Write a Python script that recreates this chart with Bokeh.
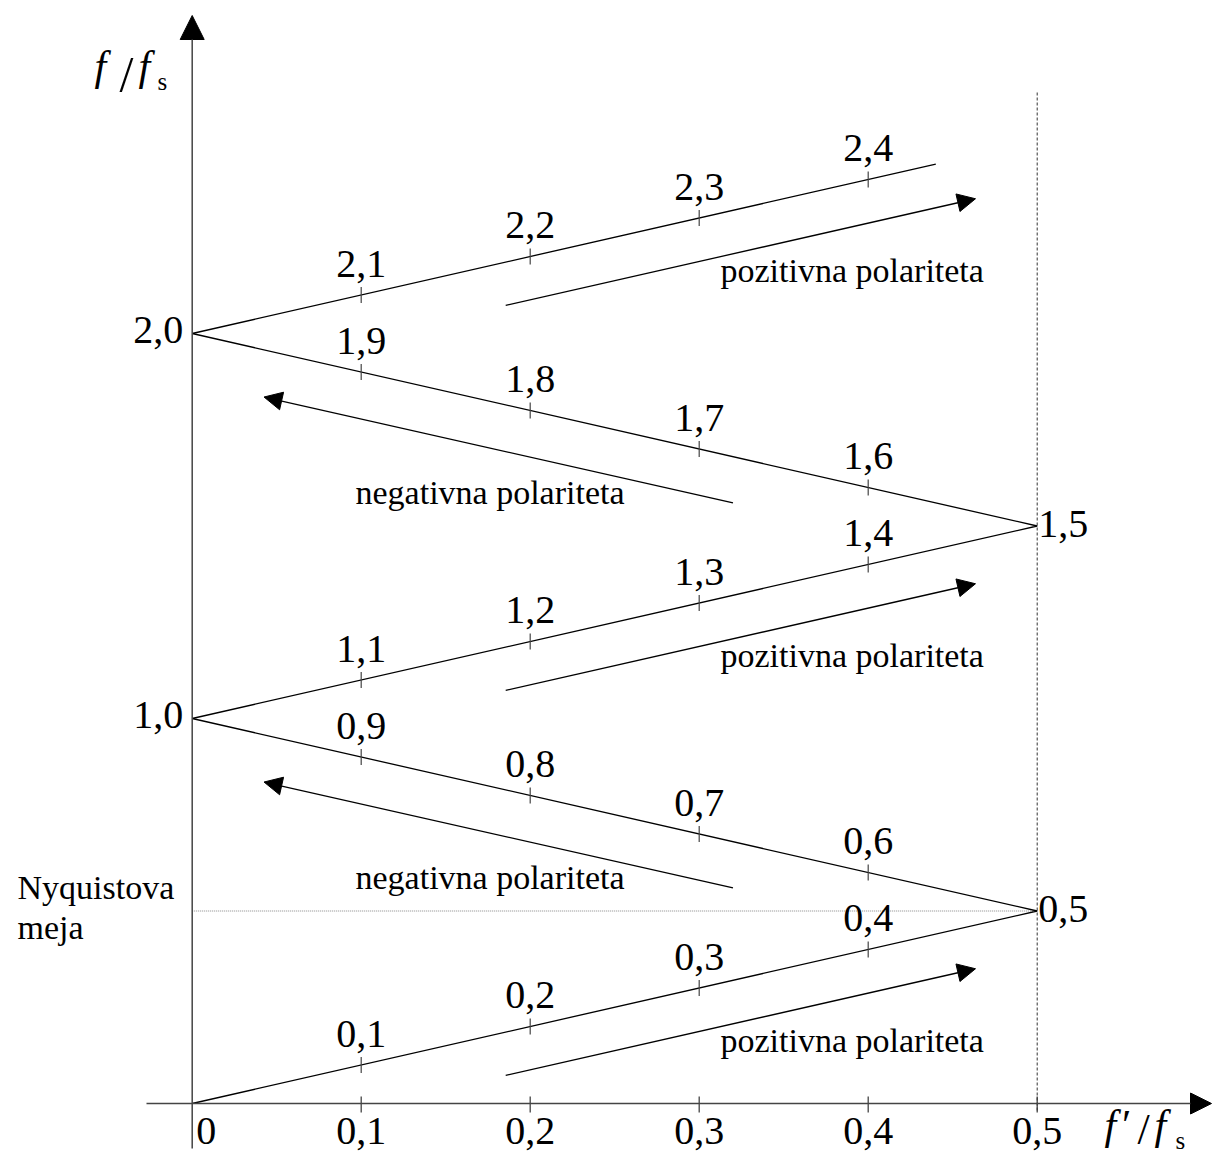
from bokeh.plotting import figure
from bokeh.models import Arrow, NormalHead, Range1d
from bokeh.embed import file_html
from bokeh.resources import INLINE
from bokeh.core.properties import value

# ---------------- data ----------------
# folded-frequency zigzag: f'/fs (x) versus f/fs (y)
ramp_x = [0.0, 0.5, 0.0, 0.5, 0.0, 0.44]
ramp_y = [0.0, 0.5, 1.0, 1.5, 2.0, 2.44]

# marks on the zigzag
tick_f = [0.1, 0.2, 0.3, 0.4, 0.6, 0.7, 0.8, 0.9, 1.1, 1.2, 1.3, 1.4,
          1.6, 1.7, 1.8, 1.9, 2.1, 2.2, 2.3, 2.4]
tick_x = [0.1, 0.2, 0.3, 0.4, 0.4, 0.3, 0.2, 0.1, 0.1, 0.2, 0.3, 0.4,
          0.4, 0.3, 0.2, 0.1, 0.1, 0.2, 0.3, 0.4]
tick_labels = ["0,1", "0,2", "0,3", "0,4", "0,6", "0,7", "0,8", "0,9",
               "1,1", "1,2", "1,3", "1,4", "1,6", "1,7", "1,8", "1,9",
               "2,1", "2,2", "2,3", "2,4"]

# turning points
left_vx = [0.0, 0.0]
left_vy = [1.0, 2.0]
left_vlabels = ["1,0", "2,0"]
right_vx = [0.5, 0.5]
right_vy = [0.5, 1.5]
right_vlabels = ["0,5", "1,5"]

# horizontal axis ticks
xaxis_ticks = [0.1, 0.2, 0.3, 0.4, 0.5]
xaxis_labels = ["0,1", "0,2", "0,3", "0,4", "0,5"]

nyquist = 0.5

# polarity arrows repeat for each band
pos_bases = [0.0, 1.0, 2.0]
neg_bases = [0.0, 1.0]

SERIF = value("Liberation Serif")
NUM_FS = 40
TXT_FS = 34
TIT_FS = 42
SL_FS = 50
SUB_FS = 25
SH = 0.36  # baseline correction factor (em)

# ---------------- figure ----------------
W, H = 1212, 1157
PXU, PYU = 1690.0, 385.0      # pixels per unit
X0PIX, Y0PIX = 191.7, 1103.0   # where (0, 0) lies
x0 = -X0PIX / PXU
y1 = Y0PIX / PYU
p = figure(width=W, height=H, output_backend="svg", toolbar_location=None,
           x_axis_type=None, y_axis_type=None,
           x_range=Range1d(x0, x0 + W / PXU),
           y_range=Range1d(y1 - H / PYU, y1),
           min_border=0, min_border_left=0, min_border_right=0,
           min_border_top=0, min_border_bottom=0)
p.outline_line_color = None
p.grid.visible = False
p.background_fill_color = "white"
p.border_fill_color = "white"


def dx(px):
    return (px - X0PIX) / PXU


def dy(py):
    return (Y0PIX - py) / PYU


AX = "#444444"

# axes with arrow heads
p.add_layout(Arrow(end=NormalHead(size=24, fill_color="black", line_color="black", line_width=1),
                   x_start=0.0, y_start=dy(1148), x_end=0.0, y_end=dy(15),
                   line_color=AX, line_width=1.5))
p.add_layout(Arrow(end=NormalHead(size=21, fill_color="black", line_color="black", line_width=1),
                   x_start=dx(146), y_start=0.0, x_end=dx(1211), y_end=0.0,
                   line_color=AX, line_width=1.5))

# x-axis ticks
p.segment(x0=xaxis_ticks, y0=[dy(1096)] * len(xaxis_ticks), x1=xaxis_ticks,
          y1=[dy(1112)] * len(xaxis_ticks), line_color=AX, line_width=1.3)
p.text(x=xaxis_ticks, y=[0.0] * len(xaxis_ticks), text=xaxis_labels,
       text_font=SERIF, text_font_size=f"{NUM_FS}px", text_align="center",
       text_baseline="alphabetic", y_offset=42 - SH * NUM_FS, text_color="black")
p.text(x=[0.0], y=[0.0], text=["0"], text_font=SERIF, text_font_size=f"{NUM_FS}px",
       text_align="left", text_baseline="alphabetic", x_offset=4,
       y_offset=42 - SH * NUM_FS, text_color="black")

# Nyquist limit and f'/fs = 0.5 line
p.line(x=[0.0, 0.5], y=[nyquist, nyquist], line_color="#888888",
       line_width=1, line_dash="1 1")
p.line(x=[0.5, 0.5], y=[dy(1110), dy(90)], line_color="#333333",
       line_width=1, line_dash="3 2")

# zigzag
p.line(x=ramp_x, y=ramp_y, line_color="black", line_width=1.3)

# marks on the zigzag
p.segment(x0=tick_x, y0=[v - 0.021 for v in tick_f], x1=tick_x,
          y1=[v + 0.021 for v in tick_f], line_color=AX, line_width=1.2)
p.text(x=tick_x, y=tick_f, text=tick_labels, text_font=SERIF,
       text_font_size=f"{NUM_FS}px", text_align="center", text_baseline="alphabetic",
       y_offset=-17 - SH * NUM_FS, text_color="black")

# vertex labels
p.text(x=left_vx, y=left_vy, text=left_vlabels, text_font=SERIF,
       text_font_size=f"{NUM_FS}px", text_align="right", text_baseline="alphabetic",
       x_offset=-9, y_offset=11 - SH * NUM_FS, text_color="black")
p.text(x=right_vx, y=right_vy, text=right_vlabels, text_font=SERIF,
       text_font_size=f"{NUM_FS}px", text_align="left", text_baseline="alphabetic",
       x_offset=1, y_offset=12 - SH * NUM_FS, text_color="black")

# polarity arrows
for b in pos_bases:
    p.add_layout(Arrow(end=NormalHead(size=18, fill_color="black", line_color="black", line_width=1),
                       x_start=0.1855, y_start=b + 0.073, x_end=0.4635, y_end=b + 0.35,
                       line_color="black", line_width=1.3))
for b in neg_bases:
    p.add_layout(Arrow(end=NormalHead(size=18, fill_color="black", line_color="black", line_width=1),
                       x_start=0.32, y_start=b + 0.56, x_end=0.0425, y_end=b + 0.835,
                       line_color="black", line_width=1.3))

p.text(x=[dx(720)] * len(pos_bases), y=[b + dy(282.5) - 2.0 for b in pos_bases],
       text=["pozitivna polariteta"] * len(pos_bases), text_font=SERIF,
       text_font_size=f"{TXT_FS}px", text_align="left", text_baseline="alphabetic",
       y_offset=-SH * TXT_FS, text_color="black")
p.text(x=[dx(355)] * len(neg_bases), y=[b + dy(504) - 1.0 for b in neg_bases],
       text=["negativna polariteta"] * len(neg_bases), text_font=SERIF,
       text_font_size=f"{TXT_FS}px", text_align="left", text_baseline="alphabetic",
       y_offset=-SH * TXT_FS, text_color="black")

# Nyquist label
p.text(x=[dx(17), dx(17)], y=[dy(899), dy(939)], text=["Nyquistova", "meja"],
       text_font=SERIF, text_font_size=f"{TXT_FS}px", text_align="left",
       text_baseline="alphabetic", y_offset=-SH * TXT_FS, text_color="black")

# axis titles: f / f_s (top) and f' / f_s (bottom right)
p.text(x=[dx(94), dx(138)], y=[dy(81)] * 2, text=["f", "f"], text_font=SERIF,
       text_font_size=f"{TIT_FS}px", text_font_style="italic", text_align="left",
       text_baseline="alphabetic", y_offset=-SH * TIT_FS, text_color="black")
p.text(x=[dx(119)], y=[dy(91)], text=["/"], text_font=SERIF, text_font_size=f"{SL_FS}px",
       text_align="left", text_baseline="alphabetic", y_offset=-SH * SL_FS,
       text_color="black")
p.text(x=[dx(157)], y=[dy(90)], text=["s"], text_font=SERIF, text_font_size=f"{SUB_FS}px",
       text_align="left", text_baseline="alphabetic", y_offset=-SH * SUB_FS,
       text_color="black")

p.text(x=[dx(1104), dx(1154)], y=[dy(1140)] * 2, text=["f", "f"], text_font=SERIF,
       text_font_size=f"{TIT_FS}px", text_font_style="italic", text_align="left",
       text_baseline="alphabetic", y_offset=-SH * TIT_FS, text_color="black")
p.text(x=[dx(1119)], y=[dy(1140)], text=["\u2032"], text_font=SERIF,
       text_font_size=f"{TIT_FS}px", text_font_style="italic", text_align="left",
       text_baseline="alphabetic", y_offset=-SH * TIT_FS, text_color="black")
p.text(x=[dx(1137)], y=[dy(1145)], text=["/"], text_font=SERIF, text_font_size="44px",
       text_align="left", text_baseline="alphabetic", y_offset=-SH * 44,
       text_color="black")
p.text(x=[dx(1175)], y=[dy(1149)], text=["s"], text_font=SERIF, text_font_size=f"{SUB_FS}px",
       text_align="left", text_baseline="alphabetic", y_offset=-SH * SUB_FS,
       text_color="black")

open("out.html", "w").write(file_html(p, INLINE))
